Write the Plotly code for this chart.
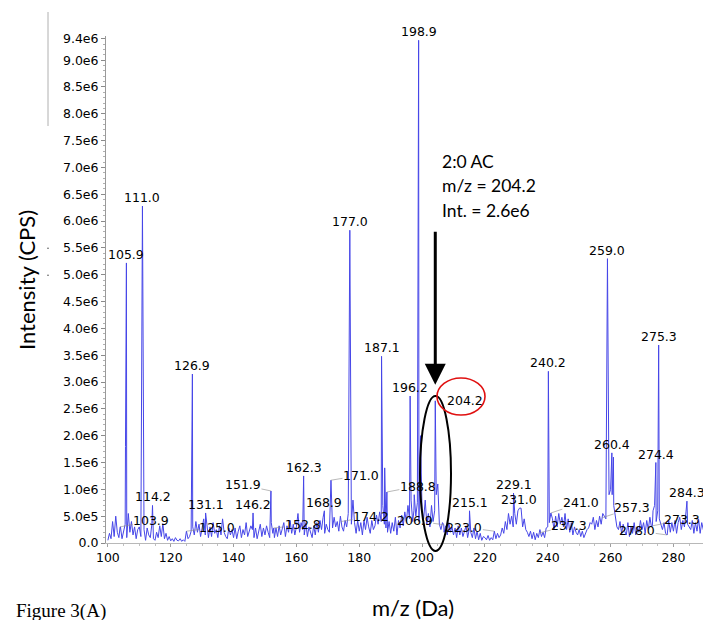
import plotly.graph_objects as go

# ---------------- data (intensities in units of 1e6 CPS) ----------------
MZ_START = 100.0
MZ_STEP = 0.5
baseline_e6 = [
    0.05, 0.18, 0.08, 0.40, 0.12, 0.50, 0.20, 0.10, 0.30, 0.08,   # 100
    0.25, 0.35, 0.10, 0.55, 0.20, 0.40, 0.15, 0.30, 0.08, 0.25,   # 105
    0.30, 0.12, 0.10, 0.25, 0.05, 0.28, 0.15, 0.10, 0.35, 0.08,   # 110
    0.05, 0.20, 0.10, 0.32, 0.12, 0.36, 0.08, 0.18, 0.05, 0.12,   # 115
    0.04, 0.08, 0.03, 0.10, 0.05, 0.04, 0.08, 0.03, 0.06, 0.03,   # 120
    0.05, 0.08, 0.12, 0.22, 0.30, 0.15, 0.40, 0.20, 0.35, 0.12,   # 125
    0.28, 0.45, 0.15, 0.35, 0.10, 0.30, 0.12, 0.38, 0.18, 0.25,   # 130
    0.10, 0.32, 0.15, 0.45, 0.20, 0.12, 0.08, 0.28, 0.15, 0.25,   # 135
    0.10, 0.28, 0.08, 0.22, 0.32, 0.10, 0.25, 0.15, 0.38, 0.12,   # 140
    0.20, 0.32, 0.25, 0.10, 0.28, 0.08, 0.22, 0.35, 0.12, 0.28,   # 145
    0.15, 0.32, 0.20, 0.10, 0.38, 0.18, 0.10, 0.28, 0.12, 0.32,   # 150
    0.15, 0.28, 0.38, 0.12, 0.32, 0.20, 0.42, 0.18, 0.35, 0.15,   # 155
    0.30, 0.55, 0.20, 0.38, 0.25, 0.15, 0.38, 0.12, 0.30, 0.18,   # 160
    0.10, 0.32, 0.15, 0.38, 0.20, 0.42, 0.25, 0.48, 0.18, 0.35,   # 165
    0.25, 0.20, 0.42, 0.28, 0.48, 0.30, 0.40, 0.22, 0.50, 0.30,   # 170
    0.22, 0.42, 0.30, 0.55, 0.80, 0.35, 0.20, 0.38, 0.18, 0.42,   # 175
    0.22, 0.38, 0.15, 0.42, 0.25, 0.48, 0.30, 0.18, 0.42, 0.25,   # 180
    0.32, 0.52, 0.35, 0.58, 0.40, 0.70, 0.35, 0.28, 0.20, 0.40,   # 185
    0.18, 0.38, 0.22, 0.48, 0.15, 0.42, 0.28, 0.52, 0.32, 0.58,   # 190
    0.40, 0.70, 0.45, 0.80, 0.40, 0.90, 0.50, 0.75, 0.40, 0.85,   # 195
    0.60, 0.45, 0.80, 0.35, 0.55, 0.30, 0.70, 0.40, 0.60, 0.90,   # 200
    0.55, 0.35, 0.25, 0.38, 0.20, 0.32, 0.15, 0.38, 0.20, 0.30,   # 205
    0.15, 0.28, 0.10, 0.32, 0.15, 0.28, 0.12, 0.25, 0.32, 0.10,   # 210
    0.25, 0.20, 0.10, 0.28, 0.08, 0.22, 0.06, 0.18, 0.05, 0.12,   # 215
    0.10, 0.06, 0.14, 0.05, 0.10, 0.06, 0.15, 0.08, 0.18, 0.10,   # 220
    0.15, 0.28, 0.18, 0.40, 0.25, 0.55, 0.35, 0.50, 0.30, 0.55,   # 225
    0.35, 0.60, 0.40, 0.65, 0.30, 0.45, 0.25, 0.20, 0.12, 0.22,   # 230
    0.08, 0.20, 0.06, 0.18, 0.10, 0.25, 0.12, 0.20, 0.10, 0.28,   # 235
    0.30, 0.38, 0.20, 0.45, 0.25, 0.50, 0.30, 0.55, 0.35, 0.48,   # 240
    0.30, 0.55, 0.25, 0.45, 0.20, 0.38, 0.15, 0.30, 0.20, 0.15,   # 245
    0.25, 0.12, 0.22, 0.10, 0.18, 0.25, 0.28, 0.38, 0.35, 0.48,   # 250
    0.25, 0.42, 0.30, 0.50, 0.35, 0.55, 0.50, 0.45, 0.70, 0.90,   # 255
    1.00, 0.90, 0.70, 0.45, 0.30, 0.25, 0.40, 0.18, 0.35, 0.22,   # 260
    0.15, 0.38, 0.12, 0.30, 0.18, 0.38, 0.15, 0.30, 0.20, 0.42,   # 265
    0.25, 0.38, 0.18, 0.42, 0.25, 0.48, 0.30, 0.60, 0.70, 0.40,   # 270
    0.60, 0.45, 0.35, 0.25, 0.38, 0.18, 0.30, 0.42, 0.20, 0.38,   # 275
    0.22, 0.42, 0.18, 0.38, 0.48, 0.25, 0.42, 0.30, 0.58, 0.35,   # 280
    0.30, 0.25, 0.42, 0.18, 0.38, 0.22, 0.45, 0.18, 0.38, 0.25,   # 285
    0.20, 0.42, 0.25, 0.38, 0.18, 0.50, 0.30, 0.52, 0.40,         # 290
]

# labelled peaks
label_mz = [103.9, 105.9, 111.0, 114.2, 125.0, 126.9, 131.1, 146.2, 151.9,
            152.8, 162.3, 168.9, 171.0, 174.2, 177.0, 187.1, 188.8, 196.2,
            198.9, 204.2, 206.9, 215.1, 223.0, 229.1, 231.0, 237.3, 240.2,
            241.0, 257.3, 259.0, 260.4, 273.3, 274.4, 275.3, 278.0, 284.3]
label_int_e6 = [0.30, 5.22, 6.28, 0.70, 0.22, 3.15, 0.56, 0.56, 0.97,
                0.28, 1.25, 0.60, 1.17, 0.40, 5.83, 3.48, 0.95, 2.74,
                9.37, 2.65, 0.34, 0.60, 0.22, 0.93, 0.65, 0.19, 3.20,
                0.56, 0.47, 5.30, 1.68, 0.32, 1.50, 3.69, 0.15, 0.78]

# unlabelled side peaks
extra_mz = [105.6, 188.1, 199.5, 205.0, 260.9, 178.0, 197.4]
extra_int_e6 = [1.80, 1.40, 2.00, 1.10, 1.60, 0.80, 0.60]

y_tickvals_e6 = [0, 0.5, 1.0, 1.5, 2.0, 2.5, 3.0, 3.5, 4.0, 4.5, 5.0, 5.5,
                 6.0, 6.5, 7.0, 7.5, 8.0, 8.5, 9.0, 9.4]
y_ticktext = ["0.0", "5.0e5", "1.0e6", "1.5e6", "2.0e6", "2.5e6", "3.0e6",
              "3.5e6", "4.0e6", "4.5e6", "5.0e6", "5.5e6", "6.0e6", "6.5e6",
              "7.0e6", "7.5e6", "8.0e6", "8.5e6", "9.0e6", "9.4e6"]
x_tickvals = [100, 120, 140, 160, 180, 200, 220, 240, 260, 280]

target_mz = 204.2
target_note = ["2:0 AC", "m/z = 204.2", "Int. = 2.6e6"]

# ---------------- build spectrum trace ----------------
pts = {}
for i, v in enumerate(baseline_e6):
    pts[round(MZ_START + i * MZ_STEP, 2)] = v * 1e6
for m, v in zip(label_mz + extra_mz, label_int_e6 + extra_int_e6):
    pts[round(m, 2)] = v * 1e6
xs = sorted(pts)
ys = [pts[k] for k in xs]

W, H = 711, 620
L, R, T, B = 98, 0, 28, 85
XR = [99.4, 294.5]
YR = [0, 9.45e6]


def px_x(p):
    return (p - L) / (W - L - R)


def px_y(p):
    return (H - B - p) / (H - B - T)


fig = go.Figure()
fig.add_trace(go.Scatter(x=xs, y=ys, mode="lines",
                         line=dict(color="#4646e8", width=1),
                         showlegend=False, hoverinfo="skip"))
fig.add_trace(go.Scatter(x=[98.3], y=[0.13e6], mode="markers",
                         marker=dict(symbol="triangle-right", size=9, color="#2424d8"),
                         cliponaxis=False, showlegend=False, hoverinfo="skip"))

LABEL_FONT = dict(family="DejaVu Sans, Arial", size=12.5, color="black")

# label placement (pixel offsets from the peak apex)
leader = {
    "103.9": (31, -6), "125.0": (31, -4), "151.9": (-28, -6), "152.8": (29, -3),
    "171.0": (30, -5), "174.2": (30, -5), "188.8": (31, -6), "206.9": (-29, -4),
    "223.0": (-30, -4), "237.3": (30, -7), "241.0": (30, -10), "257.3": (30, -10),
    "273.3": (30, -6), "278.0": (-30, -4),
}
shifted = {"204.2": (30, 0)}

annotations = []
for m, v in zip(label_mz, label_int_e6):
    txt = f"{m:.1f}"
    if txt in leader:
        ax, ay = leader[txt]
        annotations.append(dict(x=m, y=v * 1e6, xref="x", yref="y", text=txt,
                                showarrow=True, arrowhead=0, arrowwidth=0.6,
                                arrowcolor="#8a8a8a", ax=ax, ay=ay, standoff=0,
                                font=LABEL_FONT, borderpad=0))
    elif txt in shifted:
        dx, dy = shifted[txt]
        annotations.append(dict(x=m, y=v * 1e6, xref="x", yref="y", text=txt,
                                showarrow=False, xshift=dx, yshift=dy,
                                yanchor="middle", font=LABEL_FONT))
    else:
        annotations.append(dict(x=m, y=v * 1e6, xref="x", yref="y", text=txt,
                                showarrow=False, yanchor="bottom", yshift=0,
                                font=LABEL_FONT, borderpad=0))

# big arrow to the target peak
target_int = label_int_e6[label_mz.index(target_mz)] * 1e6
annotations.append(dict(x=target_mz, y=target_int + 0.3e6, xref="x", yref="y",
                        ax=target_mz, ay=5.83e6, axref="x", ayref="y",
                        text="", showarrow=True, arrowhead=2, arrowsize=1.4,
                        arrowwidth=3, arrowcolor="black", standoff=0))

NOTE_FONT = dict(family="Lato, Carlito, Calibri", size=17.5, color="black")
for line_txt, ypx in zip(target_note, [153, 178, 202]):
    annotations.append(dict(x=px_x(432), y=px_y(ypx), xref="paper", yref="paper",
                            text=line_txt, showarrow=False, xanchor="left",
                            yanchor="middle", font=NOTE_FONT))

TITLE_FONT = dict(family="Lato, Carlito, Calibri", size=22, color="black")
annotations.append(dict(x=px_x(18), y=px_y(272), xref="paper", yref="paper",
                        text="Intensity (CPS)", textangle=-90, showarrow=False,
                        xanchor="center", yanchor="middle", font=TITLE_FONT))
annotations.append(dict(x=px_x(405), y=px_y(599), xref="paper", yref="paper",
                        text="m/z (Da)", showarrow=False, xanchor="center",
                        yanchor="middle", font=TITLE_FONT))
annotations.append(dict(x=px_x(6), y=px_y(603), xref="paper", yref="paper",
                        text="Figure 3(A)", showarrow=False, xanchor="left",
                        yanchor="middle",
                        font=dict(family="Liberation Serif, Times New Roman",
                                  size=19, color="black")))

shapes = [
    # black ellipse around the target peak
    dict(type="circle", xref="paper", yref="paper",
         x0=px_x(412), x1=px_x(443), y0=px_y(543), y1=px_y(388),
         line=dict(color="black", width=2)),
    # red circle around the label
    dict(type="circle", xref="paper", yref="paper",
         x0=px_x(429), x1=px_x(477), y0=px_y(407), y1=px_y(370),
         line=dict(color="#e01010", width=1.6)),
    # stray grey line top-left
    dict(type="line", xref="paper", yref="paper",
         x0=px_x(40), x1=px_x(40), y0=px_y(118), y1=px_y(4),
         line=dict(color="#b0b0b0", width=1)),
    dict(type="circle", xref="paper", yref="paper",
         x0=px_x(39.2), x1=px_x(40.8), y0=px_y(241), y1=px_y(239.4),
         fillcolor="#555", line=dict(width=0)),
    dict(type="circle", xref="paper", yref="paper",
         x0=px_x(39.2), x1=px_x(40.8), y0=px_y(268), y1=px_y(266.4),
         fillcolor="#555", line=dict(width=0)),
]

fig.update_layout(
    width=W, height=H,
    margin=dict(l=L, r=R, t=T, b=B),
    paper_bgcolor="white", plot_bgcolor="white",
    showlegend=False,
    annotations=annotations,
    shapes=shapes,
    xaxis=dict(range=XR, tickmode="array", tickvals=x_tickvals,
               showgrid=False, zeroline=False, showline=True,
               linecolor="#b8b8b8", linewidth=1,
               ticks="outside", ticklen=3, tickcolor="#a0a0a0",
               minor=dict(tickmode="linear", tick0=100, dtick=5,
                          ticks="outside", ticklen=2, tickcolor="#c0c0c0"),
               tickfont=LABEL_FONT),
    yaxis=dict(range=YR, tickmode="array",
               tickvals=[v * 1e6 for v in y_tickvals_e6], ticktext=y_ticktext,
               showgrid=False, zeroline=False, showline=True,
               linecolor="#9a9a9a", linewidth=1,
               ticks="outside", ticklen=4, tickcolor="#8a8a8a",
               minor=dict(tickmode="linear", tick0=0, dtick=1e5,
                          ticks="outside", ticklen=2, tickcolor="#b0b0b0"),
               tickfont=LABEL_FONT),
)

fig.write_html("out.html")
